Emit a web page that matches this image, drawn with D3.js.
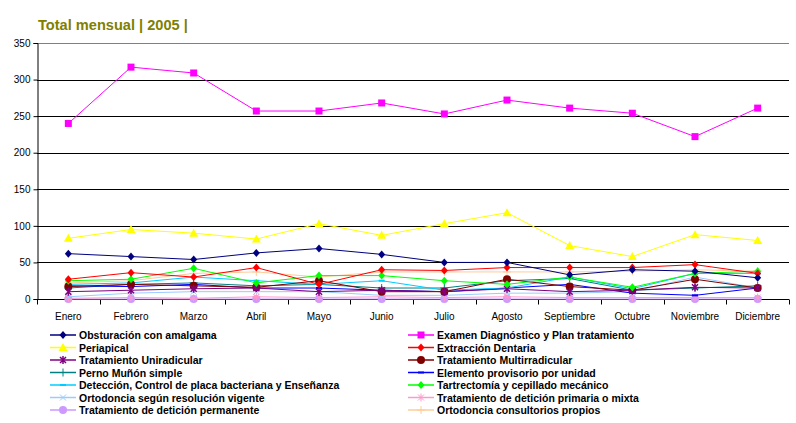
<!DOCTYPE html>
<html><head><meta charset="utf-8">
<script src="https://cdn.jsdelivr.net/npm/d3@7"></script>
<style>body{margin:0;background:#fff;}svg{display:block;font-family:"Liberation Sans",Arial,sans-serif;}</style>
</head><body><svg id="c" width="796" height="423"></svg>
<script>
const months = ["Enero","Febrero","Marzo","Abril","Mayo","Junio","Julio","Agosto","Septiembre","Octubre","Noviembre","Diciembre"];
const yTicks = [0,50,100,150,200,250,300,350];
const obsturacion   = [62,58,54,63,69,61,50,50,33,40,38,29];
const examen        = [240,317,309,257,257,268,253,272,261,254,222,261];
const periapical    = [83,95,90,82,103,87,103,118,73,58,88,80];
const extraccion    = [27,36,30,43,20,40,39,43,43,43,47,35];
const uniradicular  = [10,12,14,15,10,12,10,14,10,12,16,15];
const multirradic   = [17,20,18,16,25,10,10,27,17,12,27,15];
const perno         = [15,20,22,18,20,15,15,25,28,12,15,18];
const provisorio    = [18,17,20,15,15,12,10,15,20,8,5,15];
const deteccion     = [20,22,30,25,20,25,12,15,30,14,35,35];
const tartrectomia  = [25,27,42,22,32,32,25,20,30,16,35,38];
const ortoResol     = [3,8,10,10,10,5,5,8,8,10,30,15];
const primaria      = [1,2,1,3,2,3,2,3,2,2,2,2];
const permanente    = [0,0,0,0,0,0,0,0,0,0,0,0];
const ortoPropios   = [22,25,35,37,30,37,37,37,37,38,40,38];

const seriesNames = ["Obsturación con amalgama","Examen Diagnóstico y Plan tratamiento","Periapical","Extracción Dentaria","Tratamiento Uniradicular","Tratamiento Multirradicular","Perno Muñón simple","Elemento provisorio por unidad","Detección, Control de placa bacteriana y Enseñanza","Tartrectomía y cepillado mecánico","Ortodoncia según resolución vigente","Tratamiento de detición primaria o mixta","Tratamiento de detición permanente","Ortodoncia consultorios propios"];
const seriesValues = [obsturacion,examen,periapical,extraccion,uniradicular,multirradic,perno,provisorio,deteccion,tartrectomia,ortoResol,primaria,permanente,ortoPropios];
const seriesColors = ["#000080","#ff00ff","#ffff00","#ff0000","#800080","#800000","#008080","#0000ff","#00ccff","#00ff00","#99ccff","#ff99cc","#cc99ff","#ffcc99"];
const seriesMarkers = ["diamond","square","triangle","diamond","asterisk","circle","plus","dash","dash","diamond","x","star","circle","plus"];

const svg = d3.select("#c");
const L=37, R=789, T=43, B=299;
const x = d3.scaleBand().domain(months).range([L,R]);
const y = d3.scaleLinear().domain([0,350]).range([B,T]);

svg.append("text").attr("x",38).attr("y",30).attr("fill","#808000")
  .attr("font-size","14.6px").attr("font-weight","bold").text("Total mensual | 2005 |");

// gridlines
svg.append("g").selectAll("line").data(yTicks.filter(d=>d>0)).join("line")
  .attr("x1",L).attr("x2",R).attr("y1",d=>Math.round(y(d))+0.5).attr("y2",d=>Math.round(y(d))+0.5)
  .attr("stroke",d=>d===350?"#808080":"#000").attr("stroke-width",1);

// y axis
const ya = svg.append("g").attr("transform",`translate(${L+0.5},0)`)
  .call(d3.axisLeft(y).tickValues(yTicks).tickSize(4).tickPadding(3));
ya.select(".domain").attr("stroke","#000");
ya.selectAll("text").attr("font-size","10px").attr("fill","#000").attr("font-family","Liberation Sans, Arial, sans-serif");
ya.selectAll(".tick line").attr("stroke","#000");

// x axis
const xa = svg.append("g").attr("transform",`translate(0,${Math.round(B)+0.5})`)
  .call(d3.axisBottom(x).tickSize(0).tickPadding(13));
xa.select(".domain").attr("stroke","#000").attr("d",`M${L},0H${R}`);
xa.selectAll("text").attr("font-size","10px").attr("fill","#000").attr("font-family","Liberation Sans, Arial, sans-serif");
const bounds = months.map(m=>x(m)).concat([R]);
xa.selectAll(".bt").data(bounds).join("line").attr("class","bt")
  .attr("x1",d=>Math.round(d)+0.5).attr("x2",d=>Math.round(d)+0.5).attr("y1",0).attr("y2",5).attr("stroke","#000");

function marker(g, type, color, cx, cy){
  const s = 3.5;
  if(type==="diamond") g.append("path").attr("d",`M${cx},${cy-s-0.5}L${cx+s},${cy}L${cx},${cy+s+0.5}L${cx-s},${cy}Z`).attr("fill",color);
  else if(type==="square") g.append("rect").attr("x",cx-3.5).attr("y",cy-3.5).attr("width",7).attr("height",7).attr("fill",color);
  else if(type==="triangle") g.append("path").attr("d",`M${cx},${cy-4.5}L${cx+4.5},${cy+3.5}L${cx-4.5},${cy+3.5}Z`).attr("fill",color);
  else if(type==="circle") g.append("circle").attr("cx",cx).attr("cy",cy).attr("r",4).attr("fill",color);
  else if(type==="plus") g.append("path").attr("d",`M${cx-4},${cy}H${cx+4}M${cx},${cy-4}V${cy+4}`).attr("stroke",color).attr("stroke-width",1);
  else if(type==="dash") g.append("rect").attr("x",cx-3).attr("y",cy-1).attr("width",6).attr("height",2).attr("fill",color);
  else if(type==="x") g.append("path").attr("d",`M${cx-3},${cy-3}L${cx+3},${cy+3}M${cx+3},${cy-3}L${cx-3},${cy+3}`).attr("stroke",color).attr("stroke-width",1);
  else if(type==="asterisk") g.append("path").attr("d",`M${cx-3},${cy-3}L${cx+3},${cy+3}M${cx+3},${cy-3}L${cx-3},${cy+3}M${cx},${cy-4}V${cy+4}`).attr("stroke",color).attr("stroke-width",1.5);
  else if(type==="star") g.append("path").attr("d",`M${cx-3},${cy-3}L${cx+3},${cy+3}M${cx+3},${cy-3}L${cx-3},${cy+3}M${cx},${cy-4}V${cy+4}M${cx-4},${cy}H${cx+4}`).attr("stroke",color).attr("stroke-width",1);
}

const line = d3.line().x((d,i)=>x(months[i])+x.bandwidth()/2).y(d=>y(d));
const order = [12,11,10,13,6,7,8,5,4,9,3,0,2,1];
order.forEach(k=>{
  const g = svg.append("g");
  g.append("path").attr("d",line(seriesValues[k])).attr("fill","none").attr("stroke",seriesColors[k]).attr("stroke-width",1);
  seriesValues[k].forEach((v,i)=>marker(g,seriesMarkers[k],seriesColors[k],x(months[i])+x.bandwidth()/2,y(v)));
});

// legend
const lg = svg.append("g");
seriesNames.forEach((n,k)=>{
  const col = k%2, row = Math.floor(k/2);
  const lx = col===0?50:408, ly = 335+row*12.5;
  const g = lg.append("g");
  g.append("line").attr("x1",lx).attr("x2",lx+26).attr("y1",ly).attr("y2",ly).attr("stroke",seriesColors[k]).attr("stroke-width",1.5);
  marker(g,seriesMarkers[k],seriesColors[k],lx+13,ly);
  g.append("text").attr("x",lx+29).attr("y",ly+4).attr("font-size","10.5px").attr("font-weight","bold").attr("fill","#000").text(n);
});
</script></body></html>
